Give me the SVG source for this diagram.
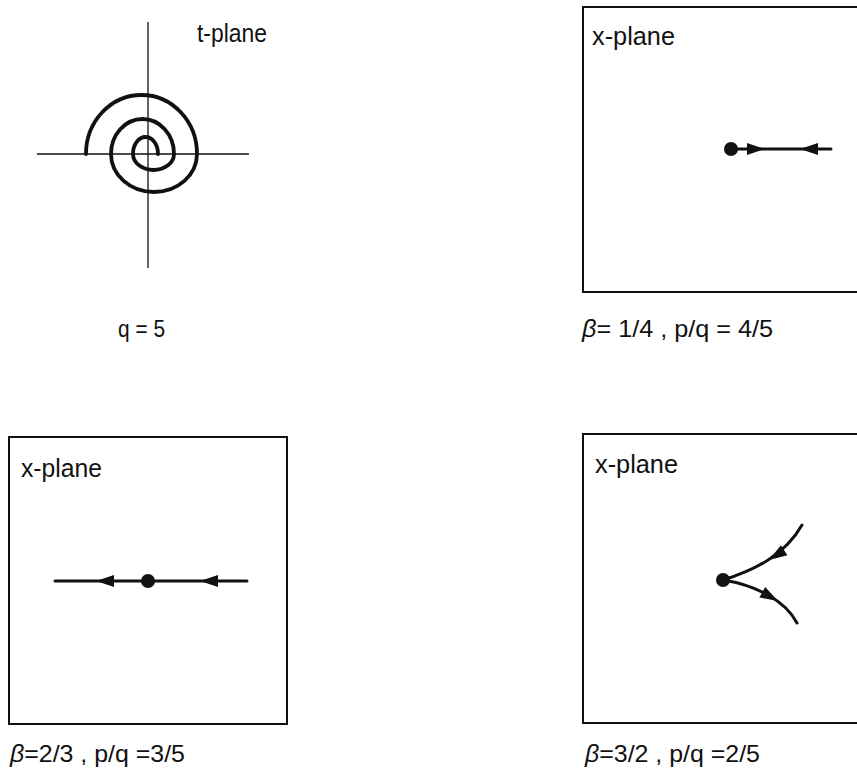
<svg xmlns="http://www.w3.org/2000/svg" xmlns:xlink="http://www.w3.org/1999/xlink" width="857" height="773" viewBox="0 0 857 773">
  <style>
    .lbl { font-family: "Liberation Sans", Arial, sans-serif; font-size: 25px; fill: #111; }
    .cap { font-family: "Liberation Sans", Arial, sans-serif; font-size: 24px; fill: #111; }
    .box { fill: none; stroke: #111; stroke-width: 2; }
    .axis { fill: none; stroke: #111; stroke-width: 1.3; }
    .flow { fill: none; stroke: #111; stroke-width: 3; stroke-linecap: round; }
    .spiral { fill: none; stroke: #111; stroke-width: 3.8; stroke-linecap: round; }
    .dot { fill: #111; }
    .head { fill: #111; }
  </style>
  <defs>
    <path id="ah" d="M0,0 L18,-6 L18,6 Z"/>
  </defs>
  <rect width="857" height="773" fill="#fff"/>

  <g id="t-plane">
    <line class="axis" x1="148" y1="22" x2="148" y2="268"/>
    <line class="axis" x1="37" y1="154" x2="249" y2="154"/>
    <path class="spiral" d="M86,154 A55.5,59 0 0 1 197,154 A43,38 0 0 1 111,154 A31.5,35 0 0 1 174,154 A20.5,16 0 0 1 133,154 A12.5,17 0 0 1 158,154"/>
    <text class="lbl" x="197" y="42" textLength="70" lengthAdjust="spacingAndGlyphs">t-plane</text>
    <text class="cap" x="118" y="337" textLength="47" lengthAdjust="spacingAndGlyphs">q = 5</text>
  </g>

  <g id="x-plane-1">
    <rect class="box" x="583" y="7" width="290" height="285"/>
    <text class="lbl" x="592" y="45" textLength="83" lengthAdjust="spacingAndGlyphs">x-plane</text>
    <line class="flow" x1="730" y1="149" x2="831" y2="149"/>
    <circle class="dot" cx="731" cy="149" r="7"/>
    <use class="head" href="#ah" xlink:href="#ah" transform="translate(765,149) rotate(180)"/>
    <use class="head" href="#ah" xlink:href="#ah" transform="translate(800,149)"/>
    <text class="cap" x="582" y="337" textLength="191" lengthAdjust="spacingAndGlyphs"><tspan font-style="italic">β</tspan>= 1/4 ,  p/q = 4/5</text>
  </g>

  <g id="x-plane-2">
    <rect class="box" x="9" y="437" width="278" height="287"/>
    <text class="lbl" x="21" y="477" textLength="81" lengthAdjust="spacingAndGlyphs">x-plane</text>
    <line class="flow" x1="55" y1="581" x2="247" y2="581"/>
    <circle class="dot" cx="148" cy="581" r="7"/>
    <use class="head" href="#ah" xlink:href="#ah" transform="translate(96,581)"/>
    <use class="head" href="#ah" xlink:href="#ah" transform="translate(200,581)"/>
    <text class="cap" x="10" y="762" textLength="175" lengthAdjust="spacingAndGlyphs"><tspan font-style="italic">β</tspan>=2/3 ,  p/q =3/5</text>
  </g>

  <g id="x-plane-3">
    <rect class="box" x="583" y="434" width="290" height="289"/>
    <text class="lbl" x="595" y="473" textLength="83" lengthAdjust="spacingAndGlyphs">x-plane</text>
    <path class="flow" d="M723,580 C755,570 785,555 802,525"/>
    <path class="flow" d="M723,580 C755,585 785,600 797,623"/>
    <circle class="dot" cx="723" cy="580" r="7"/>
    <use class="head" href="#ah" xlink:href="#ah" transform="translate(769,560) rotate(-32.7)"/>
    <use class="head" href="#ah" xlink:href="#ah" transform="translate(778,601) rotate(-150.8)"/>
    <text class="cap" x="585" y="762" textLength="175" lengthAdjust="spacingAndGlyphs"><tspan font-style="italic">β</tspan>=3/2 , p/q =2/5</text>
  </g>
</svg>
